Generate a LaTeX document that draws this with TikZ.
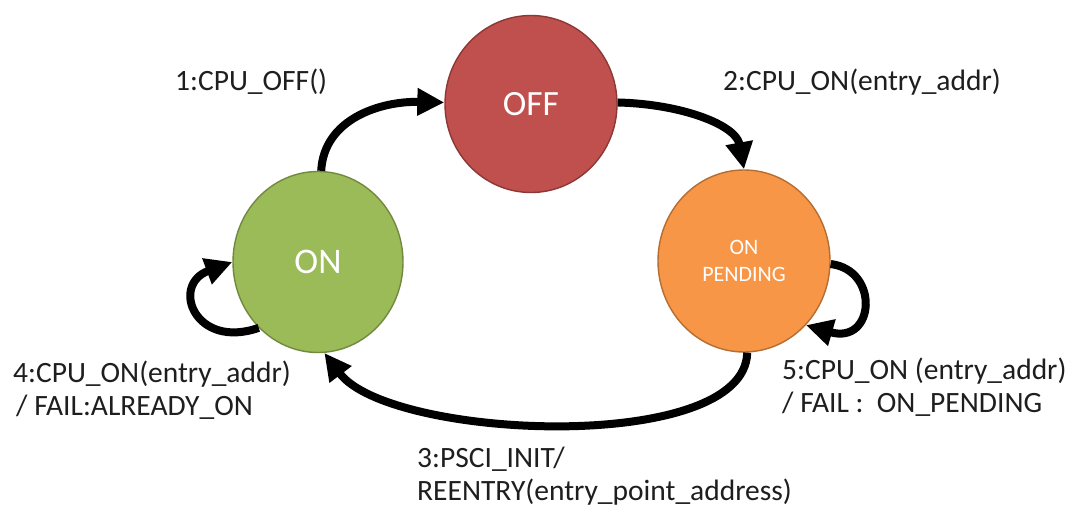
\documentclass[tikz,border=0pt]{standalone}
\usepackage{fontspec}
\setmainfont{Carlito}
\usetikzlibrary{shapes.geometric,arrows.meta}
\definecolor{offfill}{HTML}{C0504D}
\definecolor{offline}{HTML}{8C3836}
\definecolor{onfill}{HTML}{9BBB59}
\definecolor{online}{HTML}{71893E}
\definecolor{pendfill}{HTML}{F79646}
\definecolor{pendline}{HTML}{B66D31}
\definecolor{labeltext}{HTML}{1E1E1E}
\tikzset{
  statenode/.style={ellipse, line width=1.4pt, inner sep=0pt, text=white, align=center},
  trans/.style={line width=8pt, -{Triangle[length=27pt,width=26pt]}},
  lbl/.style={inner sep=0pt, text=labeltext, align=left, font=\fontsize{29.5}{33}\selectfont},
}
\begin{document}
\begin{tikzpicture}[x=1pt,y=-1pt]
\useasboundingbox[fill=white] (0,0) rectangle (1092,511);
% states
\node[statenode, fill=offfill, draw=offline, minimum width=172pt, minimum height=177pt,
      font=\fontsize{35.5}{40}\selectfont] (off) at (531,104) {OFF};
\node[statenode, fill=onfill, draw=online, minimum width=170pt, minimum height=181pt,
      font=\fontsize{36}{40}\selectfont] (on) at (318,262) {ON};
\node[statenode, fill=pendfill, draw=pendline, minimum width=172pt, minimum height=182pt,
      font=\fontsize{22}{27}\selectfont] (pend) at (744,261) {ON\\PENDING};
% transitions
\draw[trans] (on.88) .. controls (324,118) and (382,101) .. (off.179);
\draw[trans] (off.1) .. controls (682,104) and (736,125) .. (pend.north);
\draw[trans] (pend.-88) .. controls (745,455) and (390,440) .. (on.-86);
\draw[trans] (on.228) .. controls (195,350) and (170,285) .. (on.180);
\draw[trans] (pend.-2) .. controls (880,270) and (875,345) .. (pend.-46);
% labels
\node[lbl, anchor=base west] (l1) at (175,91) {1:CPU\_OFF()};
\node[lbl, anchor=base west] (l2) at (723,90) {2:CPU\_ON(entry\_addr)};
\node[lbl, anchor=base west] (l3a) at (417,500) {3:PSCI\_INIT/\\REENTRY(entry\_point\_address)};
\node[lbl, anchor=base west] (l4) at (13,415) {4:CPU\_ON(entry\_addr)\\\hspace*{3pt}/ FAIL:ALREADY\_ON};
\node[lbl, anchor=base west] (l5) at (782,412) {5:CPU\_ON (entry\_addr)\\/ FAIL :\ \ ON\_PENDING};
\end{tikzpicture}
\end{document}
